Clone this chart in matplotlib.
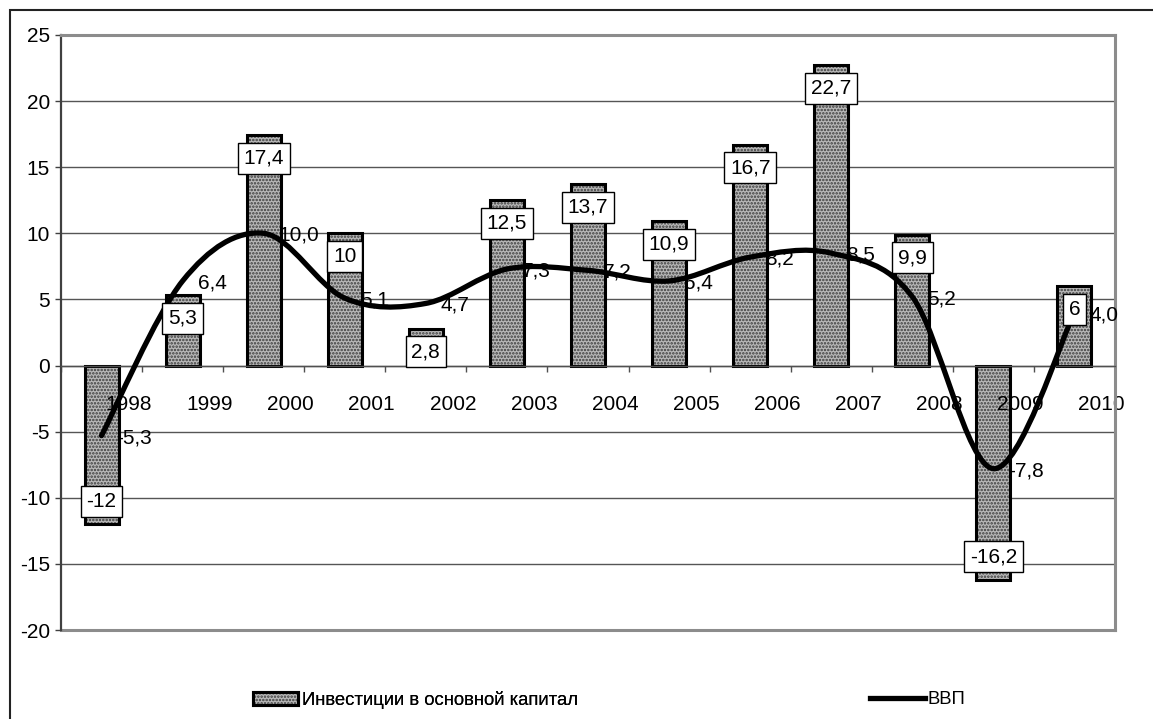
import numpy as np
import matplotlib
matplotlib.use("Agg")
import matplotlib.pyplot as plt
from matplotlib.path import Path
from matplotlib.patches import PathPatch, Rectangle
from matplotlib.lines import Line2D

# data
years = ["1998", "1999", "2000", "2001", "2002", "2003", "2004",
         "2005", "2006", "2007", "2008", "2009", "2010"]
invest = [-12, 5.3, 17.4, 10, 2.8, 12.5, 13.7, 10.9, 16.7, 22.7, 9.9, -16.2, 6]
gdp = [-5.3, 6.4, 10.0, 5.1, 4.7, 7.3, 7.2, 6.4, 8.2, 8.5, 5.2, -7.8, 4.0]
yticks = [-20, -15, -10, -5, 0, 5, 10, 15, 20, 25]

plt.rcParams["font.family"] = ["Liberation Sans", "DejaVu Sans"]
plt.rcParams["hatch.linewidth"] = 1.2
FS = 15
LEG_FS = 13.3
PX = 0.72  # points per pixel at dpi 100

fig = plt.figure(figsize=(11.53, 7.19), dpi=100)
ax = fig.add_axes([61 / 1153, 1 - 630 / 719, (1115 - 61) / 1153, (630 - 35) / 719])

x = np.arange(len(years))

# bars: hatched fill + black outline
b1 = ax.bar(x, invest, width=0.42, color="#b8b8b8", hatch=".....",
            edgecolor="#3c3c3c", linewidth=0, zorder=2)
b2 = ax.bar(x, invest, width=0.42, fill=False, edgecolor="black",
            linewidth=2.2, zorder=2.2)

# smoothed GDP line (Catmull-Rom style bezier, like Excel smoothing)
pts = np.column_stack([x, gdp]).astype(float)
verts = [pts[0]]
codes = [Path.MOVETO]
n = len(pts)
for i in range(n - 1):
    p_prev = pts[i - 1] if i > 0 else pts[i]
    p_next2 = pts[i + 2] if i + 2 < n else pts[i + 1]
    c1 = pts[i] + (pts[i + 1] - p_prev) / 6
    c2 = pts[i + 1] - (p_next2 - pts[i]) / 6
    verts += [c1, c2, pts[i + 1]]
    codes += [Path.CURVE4] * 3
curve = PathPatch(Path(verts, codes), fill=False, edgecolor="black",
                  linewidth=3.8, capstyle="round", zorder=3)
ax.add_patch(curve)

# bar labels in white boxes
for xi, v in zip(x, invest):
    lab = f"{v:g}".replace(".", ",")
    off = -23 * PX if v > 0 else 23 * PX
    ax.annotate(lab, (xi, v), xytext=(0, off), textcoords="offset points",
                ha="center", va="center", fontsize=FS, zorder=5,
                bbox=dict(boxstyle="square,pad=0.28", fc="white", ec="black", lw=1))

# GDP labels
for xi, v in zip(x, gdp):
    lab = f"{v:.1f}".replace(".", ",")
    ax.annotate(lab, (xi, v), xytext=(15 * PX, -2 * PX), textcoords="offset points",
                ha="left", va="center", fontsize=FS, zorder=5)

# category labels sitting under the zero line, shifted right
for xi, yr in zip(x, years):
    ax.annotate(yr, (xi, 0), xytext=(27 * PX, -39 * PX), textcoords="offset points",
                ha="center", va="center", fontsize=FS, zorder=2.5)

ax.set_xlim(-0.5, len(years) - 0.5)
ax.set_ylim(-20, 25)
ax.set_yticks(yticks)
ax.set_yticklabels([str(t) for t in yticks], fontsize=FS)
ax.tick_params(axis="y", direction="out", length=6 * PX, width=1, color="#404040",
               pad=5 * PX)

for t in yticks[1:-1]:
    ax.axhline(t, color="#555555", linewidth=1, zorder=1)

ax.spines["bottom"].set_position(("data", 0))
ax.spines["bottom"].set_color("#505050")
ax.spines["bottom"].set_linewidth(1)
ax.set_xticks(np.arange(-0.5, len(years) + 0.5, 1))
ax.set_xticklabels([])
ax.tick_params(axis="x", direction="out", length=6 * PX, width=1, color="#505050")

ax.spines["left"].set_color("#404040")
ax.spines["left"].set_linewidth(1.6)
for s in ["top", "right"]:
    ax.spines[s].set_color("#8c8c8c")
    ax.spines[s].set_linewidth(2.2)
ax.axhline(-20, color="#8c8c8c", linewidth=2.2, clip_on=False, zorder=1)

# outer chart frame (cut by the image on right and bottom)
fig.patches.append(Rectangle((10 / 1153, -0.5), 2, 1 - 10 / 719 + 0.5,
                             transform=fig.transFigure, fill=False,
                             edgecolor="#222222", linewidth=1.5))

# legends
leg1 = fig.legend([(b1, b2)], ["Инвестиции в основной капитал"],
                  loc="center left", bbox_to_anchor=(253 / 1153, 1 - 700 / 719),
                  frameon=False, fontsize=LEG_FS, borderpad=0, borderaxespad=0,
                  handlelength=2.45, handleheight=0.65, handletextpad=0.22)
fig.legend([Line2D([], [], color="black", linewidth=3.8)], ["ВВП"],
           loc="center left", bbox_to_anchor=(870 / 1153, 1 - 700 / 719),
           frameon=False, fontsize=LEG_FS, borderpad=0, borderaxespad=0,
           handlelength=3.0, handletextpad=0.1)
fig.add_artist(leg1)

fig.savefig("out.png", dpi=100, facecolor="white")
